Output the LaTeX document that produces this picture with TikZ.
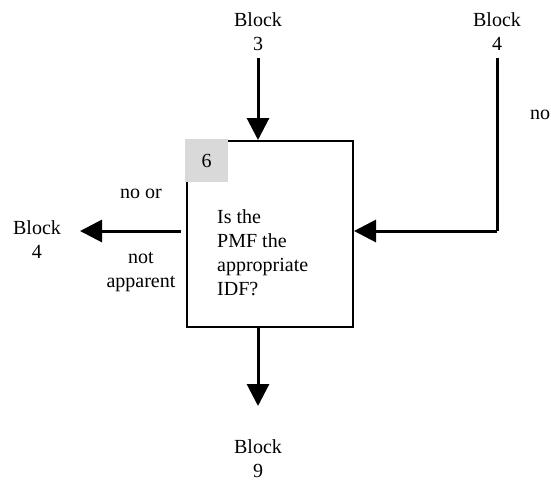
\documentclass[tikz,border=0pt]{standalone}
\usepackage{fontspec}
\setmainfont{Liberation Serif}
\usetikzlibrary{arrows.meta}
\begin{document}
\begin{tikzpicture}[x=1pt,y=-1pt,
  lbl/.style={font=\fontsize{20}{24}\selectfont, align=center, inner sep=0pt},
  flow/.style={line width=3pt, -{Triangle[length=22pt,width=22pt]}},
  plain/.style={line width=3pt}]
\useasboundingbox (0,0) rectangle (551,485);
\node[draw, line width=2pt, minimum width=166pt, minimum height=186pt, inner sep=0pt] (box) at (270,234) {};
\node[fill=black!15, minimum width=43pt, minimum height=43pt, inner sep=0pt, anchor=north west, font=\fontsize{20}{24}\selectfont] (num) at ([shift={(-1pt,1pt)}]box.north west) {6};
\node[lbl, align=left, anchor=north west] (q) at (217,209) {Is the\\PMF the\\appropriate\\IDF?};
\node[lbl] (b3) at (258,32) {Block\\3};
\node[lbl] (b4r) at (497,32) {Block\\4};
\node[lbl] (b4l) at (37,240) {Block\\4};
\node[lbl] (b9) at (258,459) {Block\\9};
\node[lbl] (no) at (540,115) {no};
\node[lbl] (noor) at (141,194) {no or};
\node[lbl] (notapp) at (141,272) {not\\apparent};
\coordinate (c3) at (258,58);
\coordinate (c4top) at (497,58);
\coordinate (c4corner) at (497,231);
\coordinate (lstart) at (181,231);
\coordinate (ltip) at (80,231);
\coordinate (btip) at (258,406);
\draw[flow] (c3) -- (box.north -| c3);
\draw[plain] (c4top) -- (c4corner);
\draw[flow] (c4corner) -- (box.east |- c4corner);
\draw[flow] (lstart) -- (ltip);
\draw[flow] (box.south -| c3) -- (btip);
\end{tikzpicture}
\end{document}
